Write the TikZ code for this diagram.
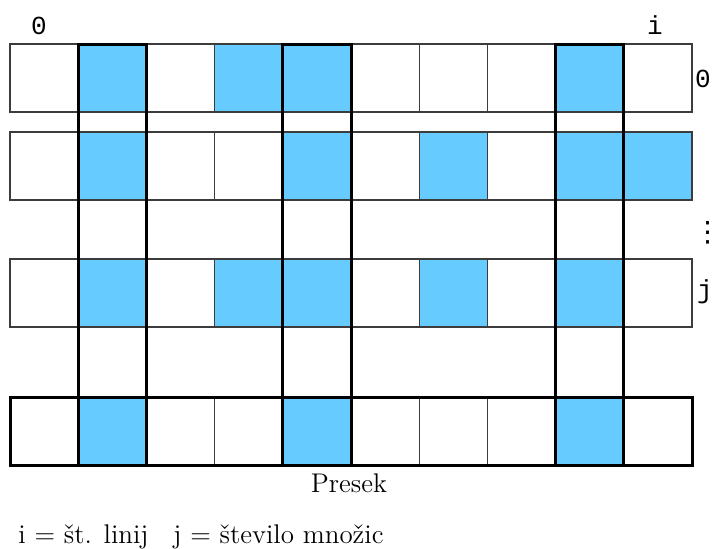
\documentclass[tikz,border=0pt]{standalone}
\usepackage{fontspec}
\newfontfamily\labelfont{Liberation Mono}
\newfontfamily\symfont{DejaVu Sans}
\usetikzlibrary{positioning}
\definecolor{setblue}{RGB}{102,204,255}
\definecolor{gridline}{RGB}{60,60,60}
\tikzset{
  cell/.style={draw=gridline,line width=0.6pt,fill=white,minimum width=34.1pt,minimum height=34pt,inner sep=0pt,outer sep=0pt},
  hit/.style={draw=gridline,line width=0.6pt,fill=setblue},
  thickbox/.style={draw=black,line width=1.5pt},
  idx/.style={font=\labelfont\fontsize{13}{15}\selectfont,inner sep=0pt},
  txt/.style={font=\fontsize{13.5}{16}\selectfont,inner sep=0pt}
}

\begin{document}
\begin{tikzpicture}[x=0.5pt,y=-0.5pt]
  \useasboundingbox (0,0) rectangle (723,548);
  % rows of sets, last row is the intersection
  \foreach \r/\yc in {0/78,1/166,2/293,3/431}
    \foreach \k in {0,...,9}
      \node[cell] (c\r\k) at ({44.1+68.2*\k},\yc) {};
  \foreach \r/\k in {0/1,0/3,0/4,0/8,1/1,1/4,1/6,1/8,1/9,2/1,2/3,2/4,2/6,2/8,3/1,3/4,3/8}
    \draw[hit] (c\r\k.north west) rectangle (c\r\k.south east);
  % common columns
  \foreach \k in {1,4,8}
    \draw[thickbox] (c0\k.north west) rectangle (c3\k.south east);
  \draw[thickbox] (c30.north west) rectangle (c39.south east);
  % labels
  \node[idx] (first) at (39,26) {0};
  \node[idx] (last) at (655,25) {i};
  \node[idx] (row0) at (703,79) {0};
  \node[font=\symfont\fontsize{14}{16}\selectfont,inner sep=0pt,anchor=east] (dots) at (722,233) {⋮};
  \node[idx] (rowj) at (705,292) {j};
  \node[txt] (presek) at (349,483) {Presek};
  \node[txt,anchor=base west] (legi) at (18,543) {i = št. linij};
  \node[txt,anchor=base west] (legj) at (173,543) {j = število množic};
\end{tikzpicture}
\end{document}
